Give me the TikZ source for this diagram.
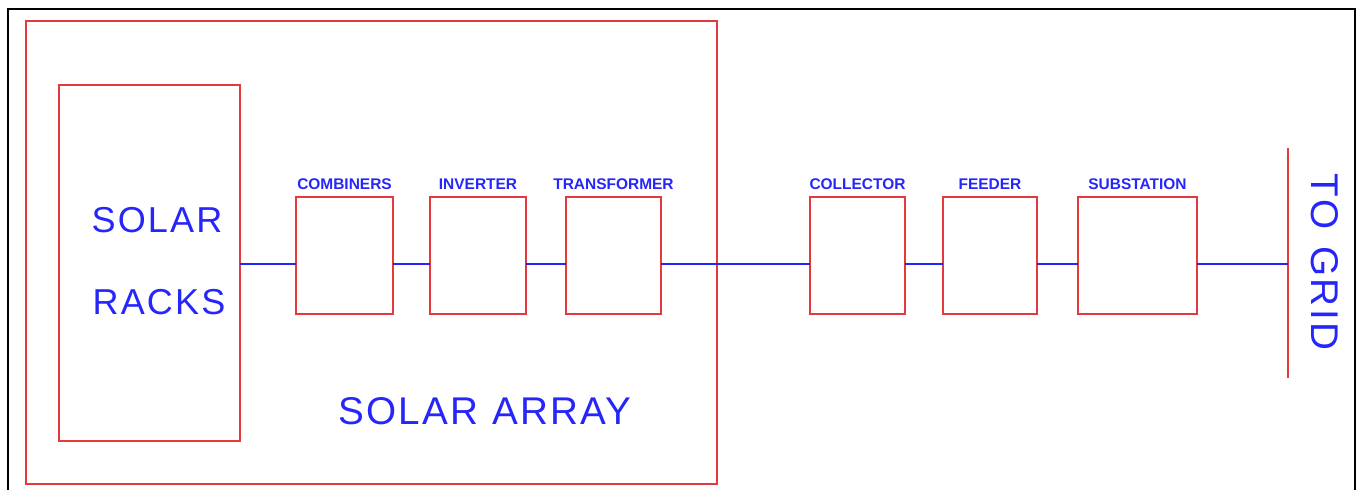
\documentclass[tikz,border=0pt]{standalone}
\usepackage{fontspec}
\setmainfont{Liberation Sans}
\newfontfamily\cadfont[LetterSpace=6]{Liberation Sans}
\usetikzlibrary{positioning}

\definecolor{cadred}{RGB}{228,58,62}
\definecolor{cadblue}{RGB}{38,38,250}

\tikzset{
  blockbox/.style={draw=cadred, line width=1.1pt, inner sep=0pt, outer sep=0pt},
  linkline/.style={color=cadblue, line width=1.2pt},
  tagtext/.style={text=cadblue, inner sep=0pt, font=\bfseries\fontsize{8.8}{10}\selectfont},
  bigtext/.style={text=cadblue, inner sep=0pt, font=\cadfont\fontsize{20.5}{22}\selectfont}
}

\begin{document}
\begin{tikzpicture}[x=0.02cm, y=-0.02cm]
  \useasboundingbox (0,0) rectangle (1358,490);
  % sheet frame, open at the bottom
  \draw[line width=1.4pt] (8,490) -- (8,9) -- (1355,9) -- (1355,490);

  % solar array and racks
  \node (array) [blockbox, minimum width=13.82cm, minimum height=9.26cm] at (371.5,252.5) {};
  \node (racks) [blockbox, minimum width=3.62cm, minimum height=7.12cm] at (149.5,263) {};
  \node (solartxt) [bigtext] at (157,220) {SOLAR};
  \node (rackstxt) [bigtext] at (159,302) {RACKS};
  \node (arraytxt) [bigtext, font=\cadfont\fontsize{22}{24}\selectfont] at (485,411) {SOLAR\hspace{0.35em}ARRAY};

  % equipment blocks
  \node (comb)  [blockbox, minimum width=1.94cm, minimum height=2.34cm] at (344.5,255.5) {};
  \node (inv)   [blockbox, minimum width=1.92cm, minimum height=2.34cm] at (478,255.5) {};
  \node (trans) [blockbox, minimum width=1.90cm, minimum height=2.34cm] at (613.5,255.5) {};
  \node (coll)  [blockbox, minimum width=1.90cm, minimum height=2.34cm] at (857.5,255.5) {};
  \node (feed)  [blockbox, minimum width=1.88cm, minimum height=2.34cm] at (990,255.5) {};
  \node (subst) [blockbox, minimum width=2.38cm, minimum height=2.34cm] at (1137.5,255.5) {};

  % block tags
  \node (combtag)  [tagtext, above=0.14cm of comb]  {COMBINERS};
  \node (invtag)   [tagtext, above=0.14cm of inv]   {INVERTER};
  \node (transtag) [tagtext, above=0.14cm of trans] {TRANSFORMER};
  \node (colltag)  [tagtext, above=0.14cm of coll]  {COLLECTOR};
  \node (feedtag)  [tagtext, above=0.14cm of feed]  {FEEDER};
  \node (substtag) [tagtext, above=0.14cm of subst] {SUBSTATION};

  % grid bus
  \coordinate (gridtop) at (1288,148);
  \coordinate (gridbot) at (1288,378);
  \draw[cadred, line width=1.1pt] (gridtop) -- (gridbot);
  \node (gridtxt) [bigtext, font=\cadfont\fontsize{22}{24}\selectfont, rotate=-90] at (1325,262) {TO\hspace{0.45em}GRID};

  % feeder line, a little below the block centres
  \coordinate (bus) at (0,264);
  \draw[linkline] (racks.east |- bus) -- (comb.west |- bus);
  \draw[linkline] (comb.east |- bus) -- (inv.west |- bus);
  \draw[linkline] (inv.east |- bus) -- (trans.west |- bus);
  \draw[linkline] (trans.east |- bus) -- (coll.west |- bus);
  \draw[linkline] (coll.east |- bus) -- (feed.west |- bus);
  \draw[linkline] (feed.east |- bus) -- (subst.west |- bus);
  \draw[linkline] (subst.east |- bus) -- (gridtop |- bus);
\end{tikzpicture}
\end{document}
